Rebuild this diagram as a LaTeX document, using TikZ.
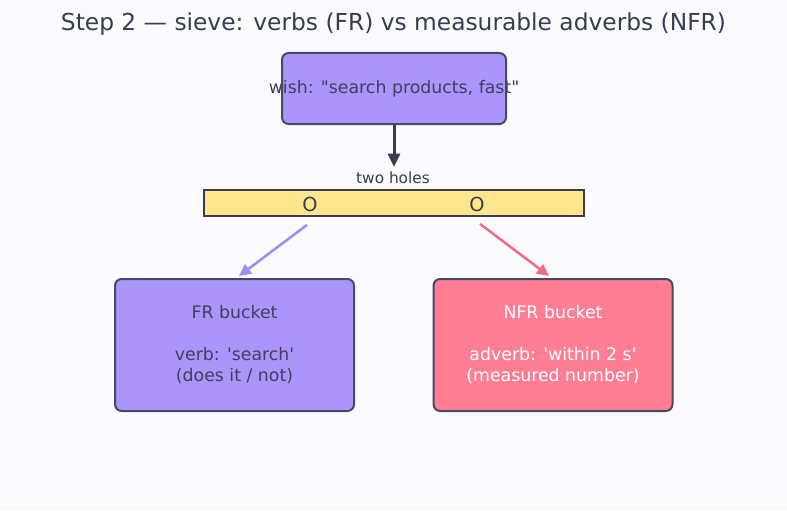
\documentclass[tikz,border=0pt]{standalone}
\usepackage{fontspec}
\setmainfont{DejaVu Sans}[Ligatures=TeXOff]
\definecolor{bgpaper}{HTML}{FBFBFE}
\definecolor{inkdark}{HTML}{363D50}
\definecolor{edgedark}{HTML}{454A63}
\definecolor{textdark}{HTML}{3F3F5E}
\definecolor{frpurple}{HTML}{AB95FB}
\definecolor{nfrpink}{HTML}{FF7E93}
\definecolor{sieveyellow}{HTML}{FFE68C}
\definecolor{arrpurple}{HTML}{A08CF2}
\definecolor{arrpink}{HTML}{F06C82}
\usetikzlibrary{arrows.meta,positioning,calc}

\begin{document}
\begin{tikzpicture}[
    x=0.75pt, y=-0.75pt,
    box/.style={rectangle, rounded corners=5pt, draw=edgedark, line width=1.5pt,
      align=center, font=\fontsize{13}{15.75}\selectfont},
    bucket/.style={box, minimum width=179.25pt, minimum height=99pt},
    sieve/.style={rectangle, draw=inkdark, line width=1.1pt, fill=sieveyellow,
      minimum width=285pt, minimum height=19.5pt},
    hole/.style={font=\fontsize{14.5}{16}\selectfont, text=inkdark, inner sep=1pt}
  ]
    \useasboundingbox[fill=bgpaper] (0,0) rectangle (787,510);

    % Title
    \node[font=\fontsize{17.5}{20}\selectfont, text=inkdark] (title) at (393.5,24)
      {Step 2 — sieve: verbs (FR) vs measurable adverbs (NFR)};

    % Wish on top
    \node[box, fill=frpurple, minimum width=168pt, minimum height=53.25pt,
      label={[font=\fontsize{13}{15}\selectfont, text=textdark]center:wish: "search products, fast"}]
      (wish) at (394,88.5) {};

    % Sieve bar with two holes
    \node[sieve] (bar) at (394,203) {};
    \node[font=\fontsize{11.5}{13}\selectfont, text=inkdark] (holes) at (393,178) {two holes};
    \node[hole] (holeL) at (310,204) {O};
    \node[hole] (holeR) at (477,204) {O};

    \draw[-{Triangle[length=10pt,width=9pt]}, line width=2.25pt, inkdark]
      (wish.south) -- ($(wish.south)+(0,42)$) coordinate (drop);

    % Buckets
    \node[bucket, fill=frpurple, text=textdark] (fr) at (234.5,345)
      {FR bucket\\[15.75pt]verb: 'search'\\(does it / not)};
    \node[bucket, fill=nfrpink, text=white] (nfr) at (553,345)
      {NFR bucket\\[15.75pt]adverb: 'within 2 s'\\(measured number)};

    \draw[-{Triangle[length=9pt,width=8.5pt]}, line width=1.9pt, arrpurple]
      ($(holeL.south)+(-3,12)$) -- ($(fr.north)+(4.5,-2)$);
    \draw[-{Triangle[length=9pt,width=8.5pt]}, line width=1.9pt, arrpink]
      ($(holeR.south)+(3,11)$) -- ($(nfr.north)+(-4,-2)$);
  \end{tikzpicture}
\end{document}
